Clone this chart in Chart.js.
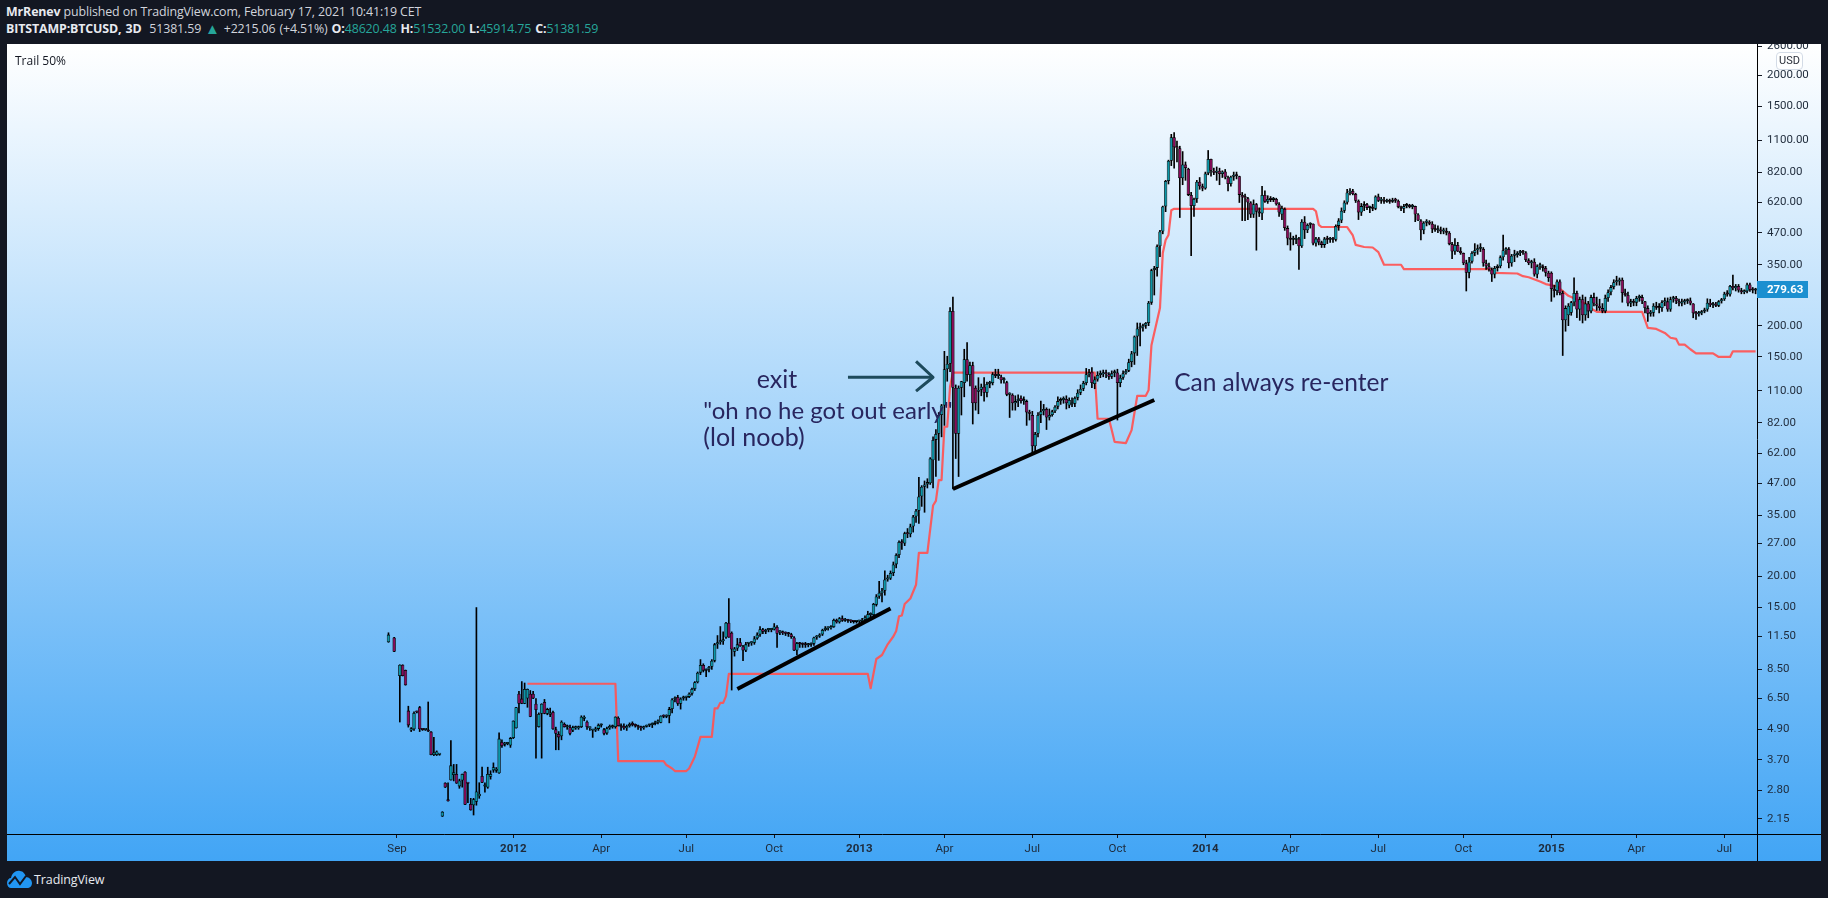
<!DOCTYPE html>
<html><head><meta charset="utf-8"><title>BITSTAMP:BTCUSD 3D</title>
<script src="https://cdn.jsdelivr.net/npm/chart.js@4/dist/chart.umd.min.js"></script>
<style>
html,body{margin:0;padding:0;width:1828px;height:898px;background:#131722;overflow:hidden;font-family:"Open Sans",sans-serif}
.t{position:absolute;white-space:nowrap;color:#d1d4dc;font-size:12.4px;line-height:16px}
.t b{color:#e8eaf0;font-weight:700}.g{color:#26a69a}
#pane{position:absolute;left:7px;top:44px;width:1814px;height:817px;overflow:hidden;background:linear-gradient(to bottom,#ffffff 0%,#42a5f5 100%)}
#pane canvas{position:absolute;left:0;top:0}
.k{position:absolute;background:#000}
#usd{position:absolute;left:1769px;top:8px;width:25px;height:16px;border:1px solid #d3dbe6;border-radius:4px;background:rgba(255,255,255,.75);color:#2a2e39;font:11px Roboto,sans-serif;line-height:16px;text-align:center}
#trail{position:absolute;left:8px;top:8px;font:12px "Open Sans",sans-serif;color:#131722}
</style></head><body>
<div class="t" style="left:6px;top:4px;letter-spacing:-.12px"><b>MrRenev</b> published on TradingView.com, February 17, 2021 10:41:19 CET</div>
<div class="t" style="left:6px;top:21px;letter-spacing:-.12px;word-spacing:.8px"><b>BITSTAMP:BTCUSD, 3D</b>&nbsp;&nbsp;51381.59 <span class="g" style="font-size:15px;line-height:14px;vertical-align:-1px">▲</span> +2215.06 (+4.51%) <b>O:</b><span class="g">48620.48</span> <b>H:</b><span class="g">51532.00</span> <b>L:</b><span class="g">45914.75</span> <b>C:</b><span class="g">51381.59</span></div>
<div id="pane"><canvas id="c" width="1814" height="817"></canvas>
<div class="k" style="left:1750px;top:790px;width:64px;height:1px"></div>
<div class="k" style="left:1750px;top:790px;width:1px;height:27px"></div>
<div id="usd">USD</div><div id="trail">Trail 50%</div></div>
<svg style="position:absolute;left:6px;top:869px" width="27" height="20" viewBox="0 0 27 20"><path d="M1 14c0-3 2-5 4-5 1-5 5-8 9-7 3 0 5 3 6 6 3 0 6 3 6 6 0 3-2 5-5 5H5c-2 0-4-2-4-5z" fill="#2196f3"/><path d="M3 15l6-7 5 7 6-8" fill="none" stroke="#131722" stroke-width="2"/></svg>
<div class="t" style="left:34px;top:872px;font-size:12.5px;color:#e8eaf0;letter-spacing:-.1px">TradingView</div>
<script>
const firstBar = 134;
const barCount = 617;
// [open, high, low, close] per 3-day bar; null where the feed has no bar
const bars2011 = [
[10.9,11.9,10.9,11.7],null,[11.4,11.4,10,10],null,[8,8.87,5.24,8.87],[8.87,8.87,8,8],[8.45,8.45,7.35,7.35],[5.82,6.06,5,5.08],[4.85,4.98,4.8,4.95],[4.9,5.75,4.85,5.7],
[5.75,5.8,5.7,5.72],[6,6.05,4.8,4.9],[4.9,4.92,4.85,4.87],[4.87,4.9,4.85,4.87],[4.87,6.3,4.8,4.8],[4.8,4.8,3.87,3.87],[3.87,4.55,3.85,3.96],[3.87,4.02,3.85,4],[3.88,3.9,3.86,3.88],[2.2,2.3,2.2,2.3],
[3,3,2.87,2.87],[2.58,3,2.53,2.53],[3.07,4.42,3.07,3.52],[3.22,3.55,3.05,3.3],[3.25,3.55,2.98,2.98],[2.9,3.1,2.85,3.06],[3.06,3.25,2.88,3.25],[3.32,3.32,2.45,2.45],[2.98,3,2.5,2.97],[2.47,2.6,2.33,2.33],
[2.44,2.6,2.23,2.58],[2.52,15,2.44,2.77],[2.65,3,2.6,2.71],[3.19,3.46,3,3],[2.9,3,2.75,2.92],[2.87,3.46,2.85,3.25],[3.17,3.35,3.1,3.25],[3.36,3.6,3.3,3.46],[3.35,3.45,3.3,3.4],[3.27,4.75,3.27,4.5],
[4.36,4.45,4.15,4.2],[4.25,4.35,4.2,4.28],[4.28,4.35,4.25,4.3],[4.22,4.55,4.15,4.52]];
const bars2012 = [
[4.52,5.3,4.5,5.3],[4.95,6,4.95,6],[6.8,6.95,5.7,6.2],[6.5,7.6,6.2,6.2],[6.2,7.5,6.2,7.1],[6.5,7.1,6,7.1],[6.8,7,5.5,5.5],[6.8,6.95,6.5,6.5],[6.2,6.5,3.76,5.85],[5,5.7,5,5.65],
[5.65,6.2,3.76,6.2],[6.3,6.45,5.65,5.65],[5.65,5.95,5.6,5.9],[5.6,5.95,5.5,5.6],[5.75,5.8,4.9,4.9],[4.9,5,4.06,4.7],[4.7,4.8,4.06,4.55],[4.6,5.3,4.45,5.25],[5.15,5.2,5,5],[5,5.1,4.9,5],
[5,5.1,4.65,4.7],[4.85,5.05,4.8,5],[4.95,5.05,4.9,4.95],[4.95,5.05,4.9,5],[5,5.55,4.98,5.5],[5.4,5.55,5.3,5.4],[5.25,5.3,4.9,5],[4.95,5,4.85,4.95],[4.85,4.9,4.55,4.85],[4.85,5,4.8,4.92],
[4.92,5.15,4.85,5.1],[5.08,5.15,5,5.1],[4.9,4.95,4.65,4.7],[4.72,5,4.68,4.95],[4.95,5.1,4.9,5.05],[5,5.1,4.95,5.05],[5,5.5,4.95,5.5],[5.45,5.5,5.05,5.05],[5.05,5.15,4.85,5],[5.05,5.15,4.9,4.95],
[4.95,5.1,4.85,5.05],[5.05,5.2,5,5.15],[5.15,5.25,5.05,5.1],[5.1,5.15,5,5.05],[5.05,5.1,4.9,5],[5,5.05,4.85,4.95],[4.95,5.05,4.9,5.02],[5.02,5.1,5,5.08],[5.08,5.14,5.02,5.1],[5.1,5.2,4.98,5.15],
[5.15,5.28,5.1,5.22],[5.22,5.35,5.15,5.27],[5.2,5.55,5.2,5.55],[5.55,5.6,5.45,5.5],[5.5,5.6,5.45,5.55],[5.55,6,5.2,5.9],[5.9,6.5,5.7,6.45],[6.45,6.6,6.3,6.5],[6.6,6.7,6.1,6.2],[6.2,6.55,5.9,6.5],
[6.5,6.65,6.4,6.55],[6.55,6.65,6.4,6.6],[6.6,6.85,6.55,6.8],[6.8,7.15,6.7,7.1],[7.1,7.6,7,7.55],[7.55,8.3,7.5,8.25],[8.25,9.3,8.1,8.85],[8.85,8.95,8.3,8.4],[8.4,8.55,7.95,8.5],[8.5,8.75,8.3,8.7],
[8.7,9.3,8.5,9.2],[9.2,10.8,9.1,10.7],[10.7,11.6,10.3,10.9],[10.9,12.6,10.7,11],[11,12,10.7,11.2],[11.4,13.1,11.3,13.05],[13.05,16.3,11.4,11.4],[11.9,12,7.03,10.2],[10,10.4,9.6,10.3],[10.3,11.3,10.1,10.7],
[10.9,11.3,10.5,10.5],[10.5,10.6,9.2,10.1],[10.1,10.9,10,10.7],[10.75,10.9,10.5,10.8],[10.8,10.95,10.6,10.85],[10.85,11.5,10.7,11.3],[11.3,11.9,11.2,11.7],[11.7,12.6,11.5,12.3],[12.3,12.4,11.8,12],[12,12.3,11.8,12.2],
[12.2,12.4,12,12.2],[12.2,12.4,12,12.25],[12.25,12.95,12.2,12.6],[12.55,12.7,10.4,11.8],[11.95,12.1,11.7,12],[12,12.1,11.7,11.85],[11.85,12,11.6,11.8],[11.8,11.95,11.5,11.75],[11.75,11.85,11.3,11.45],[11.4,11.5,10.1,10.1],
[10.1,10.9,9.7,10.8],[10.8,10.9,10.4,10.7],[10.7,10.85,10.4,10.65],[10.65,10.9,10.4,10.6],[10.6,10.8,10.45,10.65],[10.65,10.85,10.5,10.75],[10.75,11.45,10.6,11.4],[11.4,11.6,11.2,11.5],[11.5,11.8,11.4,11.7],[11.7,12.3,11.6,12.2],
[12.2,12.6,12.1,12.4],[12.4,12.55,12.2,12.4],[12.4,12.7,12.3,12.55],[12.55,13.5,12.5,13.4],[13.4,13.5,13,13.1],[13.1,13.7,13,13.6],[13.6,13.9,13.2,13.3],[13.3,13.6,13.2,13.4],[13.4,13.45,13.1,13.3],[13.3,13.4,13.05,13.2],
[13.2,13.3,13,13.15],[13.15,13.3,13,13.2]];
const bars2013 = [
[13.2,13.35,13,13.3],[13.15,13.6,13,13.4],[13.4,13.9,13.3,13.7],[13.4,14.5,13.3,14.1],[14,14.3,13.7,14.2],[14,15.6,13.8,15.5],[15.4,16.9,15.2,16.6],[16.6,19.1,16.3,17.2],[17.1,17.9,15.8,17.5],[17.5,21,16.8,19.4],
[19.4,20.2,19.1,19.6],[19.6,21,19.4,20.6],[20.6,22.8,20.1,22.3],[22.3,24.6,21.6,24.3],[24.3,27.7,23.7,27.4],[27.3,28,25.6,27.1],[27,30,26.5,29.7],[29.7,31,28.5,29.4],[29.4,32.3,28.7,31.6],[31.6,35,30,34.6],
[34.6,37,32.8,36.5],[36.5,49.6,32.5,41.6],[41.6,46,38,45.5],[45.5,48,36,46.5],[46.5,49,45,47.5],[47,59.5,46.5,59],[58,72,45,70],[70,77,50,74],[74,90,58,88],[88,97,72,96],
[96,158,80,134],[134,151,120,141],[141,236,131,229],[229,260,44.6,113],[113,116,59,74],[74,115,50,113],[113,120,88,120],[118,161,104,147],[147,171,120,127],[127,143,115,139],
[139,143,81,98],[113,115,92,98],[109,124,89,111],[111,117,105,114],[114,124,100,108],[108,119,104,117],[117,120,113,118],[118,130,116,128],[128,134,124,126],[126,134,123,127],
[125,127,118,121],[121,124,118,122],[119,120,105,106],[106,108,86,106],[106,107,92,98],[98,105,92,100],[100,106,95,102],[103,105,98,100],[100,104,97,101],[100,101,80,90],
[90,92,84,89],[88,91,62,66],[66,75,62,74],[74,90,72,88],[88,100,82,91],[91,97,88,93],[93,94,77,86],[86,93,84,88],[88,92,87,91],[91,96,90,95],
[95,104,93,100],[100,103,97,101],[101,104,98,102],[102,105,93,98],[96,103,94,101],[97,103,95,97.5],[97.5,104,95,103],[103,111,101,108],[108,116,106,112],[112,120,110,118],
[118,135,116,128],[128,134,125,130],[131,136,113,118],[117,125,112,122],[122,131,120,127],[127,132,124,128],[128,133,125,129],[129,133,124,128],[128,130,122,125],[125,132,123,129],
[129,133,125,130],[130,134,84,118],[118,127,114,124],[124,132,122,129],[129,134,128,132],[132,147,131,143],[143,158,137,155],[155,182,140,181],[181,205,152,195],[195,205,166,197],
[197,203,190,199],[200,206,195,205],[205,250,200,247],[247,336,243,333],[333,345,265,340],[340,420,315,415],[415,480,377,475],[475,600,465,598],[598,760,570,755],[755,915,735,910],
[910,1160,870,1130],[1130,1180,850,1030],[1030,1090,900,1020],[1020,1040,540,775],[775,990,730,880],[880,900,760,850],[845,850,660,665],[665,680,380,600],[600,645,545,640],[640,760,620,750],
[750,780,700,720],[720,735,690,705]];
const bars2014 = [
[705,820,700,810],[810,1000,800,925],[925,925,790,830],[830,850,800,815],[815,860,760,830],[830,850,730,805],[805,830,780,825],[825,840,770,780],[780,790,690,735],[735,790,720,785],
[785,820,760,800],[800,820,770,790],[790,790,620,665],[665,680,525,650],[650,670,525,645],[645,650,530,620],[620,625,540,555],[555,635,540,610],[610,615,400,570],[570,590,545,560],
[560,720,530,665],[665,690,620,625],[625,660,615,640],[640,655,625,635],[635,650,625,640],[640,645,605,610],[610,620,545,565],[555,600,530,590],[585,590,480,490],[490,500,420,445],
[445,470,400,440],[440,455,420,440],[440,460,425,445],[445,450,335,415],[415,530,410,520],[520,545,445,480],[480,510,470,505],[505,515,490,510],[510,510,420,425],[425,450,415,445],
[445,450,420,430],[430,435,410,420],[420,450,410,445],[445,455,425,440],[440,450,430,445],[445,450,430,440],[440,505,435,500],[500,535,480,525],[525,590,515,575],[575,630,565,620],
[620,700,610,680],[680,705,665,690],[690,700,665,670],[670,675,620,630],[630,635,530,565],[565,615,550,600],[600,625,575,610],[610,615,580,590],[590,600,565,590],[590,610,575,585],
[585,660,580,655],[655,670,625,630],[630,650,615,635],[635,650,615,625],[625,640,620,630],[630,640,615,625],[625,645,620,635],[635,645,620,630],[630,635,590,595],[595,600,575,585],
[585,610,565,600],[600,615,590,605],[605,610,590,595],[595,610,585,600],[600,600,520,555],[555,560,525,525],[525,530,440,480],[480,520,465,515],[515,530,500,520],[520,525,505,510],
[510,520,470,485],[485,505,475,480],[480,500,470,480],[480,495,465,475],[475,490,465,478],[478,490,460,470],[470,475,420,423],[423,430,370,395],[395,445,385,420],[420,430,395,395],
[395,410,385,390],[390,390,350,355],[355,365,275,325],[325,375,310,360],[360,395,355,390],[390,425,380,400],[400,420,385,405],[405,425,395,410],[405,410,345,355],[355,365,335,345],
[345,355,330,335],[335,340,300,320],[320,345,310,340],[340,350,330,345],[345,380,340,375],[375,460,365,400],[400,410,385,405],[405,410,340,355],[355,385,345,380],[380,400,360,383],
[383,395,375,390],[390,400,380,395],[395,400,385,392],[392,395,360,365],[365,370,350,355],[355,365,340,360],[360,370,315,320],[320,350,310,345],[345,355,335,345],[345,350,330,340],
[340,345,315,325],[325,330,300,310]];
const bars2015 = [
[325,328,250,280],[280,290,260,275],[275,305,265,300],[300,305,265,270],[270,275,152,210],[210,240,190,235],[220,245,200,240],[225,250,220,248],[248,310,240,270],[270,275,215,232],
[232,260,210,255],[255,265,205,220],[220,260,210,245],[245,250,215,228],[228,265,225,260],[260,270,240,245],[245,260,230,240],[240,255,230,235],[235,245,225,228],[228,265,225,258],
[258,278,250,272],[272,290,265,285],[285,305,280,298],[298,315,290,300],[300,310,290,305],[305,310,248,270],[270,280,262,265],[265,272,240,245],[245,255,238,250],[250,255,240,247],
[247,262,240,258],[258,265,250,260],[260,265,245,250],[250,250,225,235],[235,240,208,223],[223,230,218,225],[225,245,218,240],[240,248,232,236],[236,245,225,235],[235,252,228,248],
[248,258,240,250],[250,258,228,232],[232,260,228,255],[255,262,248,258],[258,262,245,250],[250,255,240,245],[245,255,240,248],[248,255,243,250],[250,256,245,252],[252,258,242,245],
[245,245,215,224],[224,228,212,222],[222,228,218,224],[224,230,221,228],[228,235,225,232],[232,256,228,247],[247,255,238,241],[241,248,236,244],[244,248,238,240],[240,252,238,250],
[250,257,246,255],[255,272,252,268],[268,276,262,266],[266,290,262,288],[288,318,278,282],[282,292,275,288],[288,292,272,276],[276,282,268,272],[272,278,268,274],[274,296,270,292],
[292,296,274,278],[278,284,270,276],[276,282,268,279.63]];
const trailBars = [183,214,215,231,232,234,235,239,240,242,243,244,248,249,250,251,252,253,254,303,304,306,308,310,312,313,314,315,316,318,320,321,324,326,327,328,329,330,331,332,333,383,384,388,389,390,394,396,398,401,402,403,406,407,408,409,410,411,460,461,462,463,472,474,475,478,481,483,485,491,492,523,524,532,534,536,540,542,546,550,552,556,558,560,576,578,581,584,586,588,589,591,593,595,601,603,607,608,616];
const trailValues = [7.45,7.45,3.66,3.66,3.53,3.42,3.34,3.34,3.42,3.81,4.17,4.57,4.57,5.94,5.94,6.25,6.25,6.65,8.15,8.15,7.15,9.35,9.7,10.7,11.5,12.1,13.85,13.95,15.5,16.3,18.5,24.8,24.8,38.3,40,48.4,48.4,79,79,114.5,130,130,85,85,76.6,68.8,68,76.6,105,105,110.6,167,235,390,439,460,578,585,585,572,505,495,495,458,420,412,410,393,350,350,336,336,325,323,315,312,300,293,287,263,257,245,234,227,227,196,194,187,179,177,168,168,161,155,155,150,150,158,158];
const trend1Bars = [257,311], trend1Values = [7.1,14.87];
const trend2Bars = [333,404], trend2Values = [44.6,101];
const arrowShaftBars = [296,326], arrowShaftValues = [124.5,124.5];
const arrowHeadBars = [320,326,320], arrowHeadValues = [144,124.5,109.5];
const notes = [
 {text:'exit',bar:271,price:112.5,align:'center',size:25},
 {text:'"oh no he got out early"',bar:245,price:84.5,align:'left',size:24},
 {text:'(lol noob)',bar:245,price:66,align:'left',size:25},
 {text:'Can always re-enter',bar:411,price:110,align:'left',size:24.5}];
const priceTicks = [2600,2000,1500,1100,820,620,470,350,200,150,110,82,62,47,35,27,20,15,11.5,8.5,6.5,4.9,3.7,2.8,2.15];
const timeTickBars = [137,178,209,239,270,300,330,361,391,422,452,483,513,544,574,605];
const timeTickLabels = ['Sep','2012','Apr','Jul','Oct','2013','Apr','Jul','Oct','2014','Apr','Jul','Oct','2015','Apr','Jul'];
const priceMin = 1.873, priceMax = 2660;
const lastPrice = 279.63;

const labels = Array.from({length:barCount},(_,i)=>new Date(Date.UTC(2010,6,15)+i*3*864e5).toISOString().slice(0,10));
const rows = Array(firstBar).fill(null).concat(bars2011,bars2012,bars2013,bars2014,bars2015);
const pts = (b,v)=>b.map((x,i)=>({x:labels[x],y:v[i]}));
const lineDs = (data,color,width,order)=>({type:'line',data,borderColor:color,borderWidth:width,pointRadius:0,tension:0,order,borderCapStyle:'butt',borderJoinStyle:'round',fill:false});

const overlay = {id:'overlay',afterDraw(ch){
  const c=ch.ctx,x=ch.scales.x,y=ch.scales.y;
  c.save();
  c.fillStyle='#28265f';c.textBaseline='alphabetic';
  notes.forEach(n=>{c.font=n.size+'px Lato, sans-serif';c.textAlign=n.align;c.fillText(n.text,x.getPixelForValue(n.bar),y.getPixelForValue(n.price));});
  const py=y.getPixelForValue(lastPrice);
  c.fillStyle='#1b8fd0';c.fillRect(y.left,Math.round(py)-8,51,17);
  c.fillStyle='#fff';c.font='bold 11.5px Roboto, sans-serif';c.textAlign='left';c.textBaseline='middle';
  c.fillText(lastPrice.toFixed(2),y.left+10,py+1);
  c.restore();
}};

new Chart(document.getElementById('c'),{
 data:{labels,datasets:[
  {type:'bar',label:'wick',data:rows.map(r=>r?[r[2],r[1]]:null),backgroundColor:'#000',barThickness:1,borderWidth:0,order:2,grouped:false,minBarLength:1},
  {type:'bar',label:'body',data:rows.map(r=>r?[r[0],r[3]]:null),
    backgroundColor:rows.map(r=>r&&r[3]>=r[0]?'#0a97a8':'#8a0a5a'),borderColor:'#000',borderWidth:0.8,borderSkipped:false,inflateAmount:0,barThickness:3.4,order:1,grouped:false,minBarLength:2},
  lineDs(pts(trailBars,trailValues),'rgba(255,82,82,.92)',2.2,3),
  lineDs(pts(trend1Bars,trend1Values),'#000',4,0),
  lineDs(pts(trend2Bars,trend2Values),'#000',4,0),
  lineDs(pts(arrowShaftBars,arrowShaftValues),'#1d4a5c',3,0),
  lineDs(pts(arrowHeadBars,arrowHeadValues),'#1d4a5c',3,0)
 ]},
 plugins:[overlay],
 options:{responsive:false,animation:false,events:[],
  layout:{padding:0},
  plugins:{legend:{display:false},tooltip:{enabled:false}},
  scales:{
   x:{type:'category',offset:true,
     grid:{display:true,drawOnChartArea:false,drawTicks:true,tickLength:4,color:'#131722',offset:false},
     border:{color:'#000',width:1},
     ticks:{autoSkip:false,maxRotation:0,minRotation:0,padding:4,color:'#1e2a3a',
       font:c=>({family:'Roboto',size:11.5,weight:c.tick&&/^\d+$/.test(c.tick.label)?'bold':'normal'}),
       callback:v=>timeTickLabels[timeTickBars.indexOf(v)]},
     afterBuildTicks:s=>{s.ticks=timeTickBars.map(v=>({value:v}));},
     afterFit:s=>{s.height=27;s.paddingLeft=0;s.paddingRight=0;}},
   y:{type:'logarithmic',position:'right',min:priceMin,max:priceMax,
     grid:{display:true,drawOnChartArea:false,drawTicks:true,tickLength:5,color:'#131722'},
     border:{color:'#000',width:1},
     ticks:{autoSkip:false,padding:5,color:'#1e2a3a',font:{family:'Roboto',size:11.5},callback:v=>Number(v).toFixed(2)},
     afterBuildTicks:s=>{s.ticks=priceTicks.map(v=>({value:v}));},
     afterFit:s=>{s.width=64;s.paddingTop=0;s.paddingBottom=0;}}
  }}
});
</script></body></html>
